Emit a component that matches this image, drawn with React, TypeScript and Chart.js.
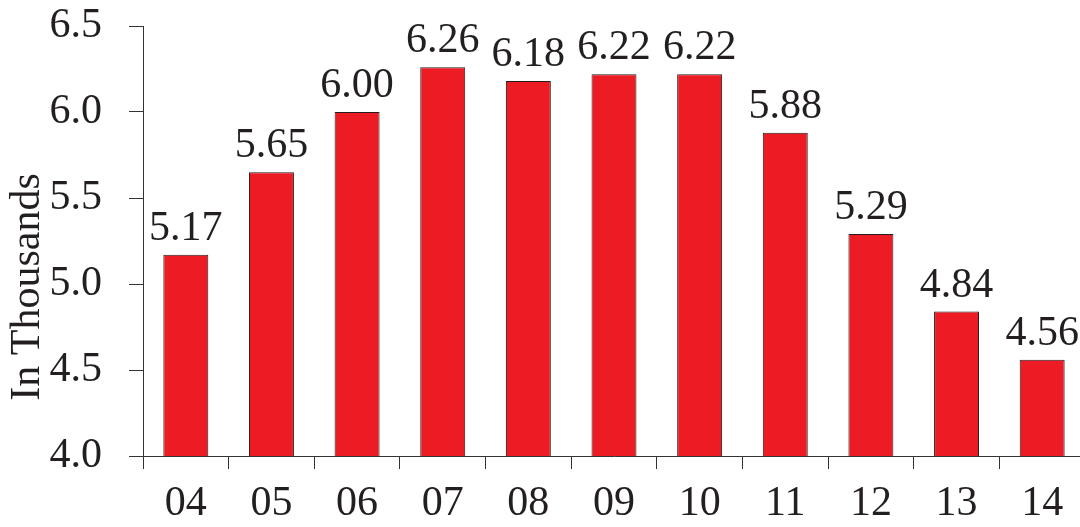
import React, { useEffect, useRef } from "react";
import { Chart, registerables } from "chart.js";

Chart.register(...registerables);

const categories = ["04", "05", "06", "07", "08", "09", "10", "11", "12", "13", "14"];
const values = [5.17, 5.65, 6.0, 6.26, 6.18, 6.22, 6.22, 5.88, 5.29, 4.84, 4.56];
const yTitle = "In Thousands";
const FONT = "'Liberation Serif', 'Times New Roman', serif";

const labelPlugin = {
  id: "valueLabels",
  afterDatasetsDraw(chart: any) {
    const ctx = chart.ctx;
    const meta = chart.getDatasetMeta(0);
    ctx.save();
    ctx.font = `42px ${FONT}`;
    ctx.fillStyle = "#231F20";
    ctx.textAlign = "center";
    ctx.textBaseline = "alphabetic";
    meta.data.forEach((bar: any, i: number) => {
      ctx.fillText(values[i].toFixed(2), bar.x, bar.y - 15);
    });
    // y-axis title
    const area = chart.chartArea;
    ctx.translate(28, (area.top + area.bottom) / 2 + 46);
    ctx.rotate(-Math.PI / 2);
    ctx.textBaseline = "middle";
    ctx.fillText(yTitle, 0, 0);
    ctx.restore();
  },
};

export default function App() {
  const ref = useRef<HTMLCanvasElement>(null);
  useEffect(() => {
    if (!ref.current) return;
    const chart = new Chart(ref.current, {
      type: "bar",
      data: {
        labels: categories,
        datasets: [
          {
            data: values,
            backgroundColor: "#ED1C24",
            borderColor: "#231F20",
            borderWidth: 1,
            barPercentage: 0.525,
            categoryPercentage: 1,
          },
        ],
      },
      options: {
        animation: false,
        responsive: false,
        layout: { padding: 0 },
        plugins: { legend: { display: false }, tooltip: { enabled: false } },
        scales: {
          x: {
            offset: true,
            grid: {
              display: true,
              offset: true,
              drawOnChartArea: false,
              drawTicks: true,
              tickLength: 13,
              color: "#333",
              lineWidth: 1,
            },
            border: { display: true, color: "#333", width: 1 },
            ticks: {
              font: { family: FONT, size: 42 },
              color: "#231F20",
              padding: 10,
              maxRotation: 0,
            },
            afterFit(scale: any) {
              scale.height = 71;
              scale.paddingLeft = 0;
              scale.paddingRight = 0;
            },
          },
          y: {
            min: 4,
            max: 6.5,
            grid: {
              display: true,
              drawOnChartArea: false,
              drawTicks: true,
              tickLength: 14,
              color: "#333",
              lineWidth: 1,
            },
            border: { display: true, color: "#333", width: 1 },
            ticks: {
              stepSize: 0.5,
              font: { family: FONT, size: 42 },
              color: "#231F20",
              padding: 27,
              callback: (v: any) => Number(v).toFixed(1),
            },
            afterFit(scale: any) {
              scale.width = 143;
              scale.paddingTop = 26;
              scale.paddingBottom = 0;
            },
          },
        },
      },
      plugins: [labelPlugin],
    });
    return () => chart.destroy();
  }, []);
  return (
    <div
      style={{
        position: "fixed",
        left: 0,
        top: 0,
        width: 1080,
        height: 527,
        overflow: "hidden",
        background: "#fff",
      }}
    >
      <canvas ref={ref} width={1085} height={527} style={{ display: "block" }} />
    </div>
  );
}
